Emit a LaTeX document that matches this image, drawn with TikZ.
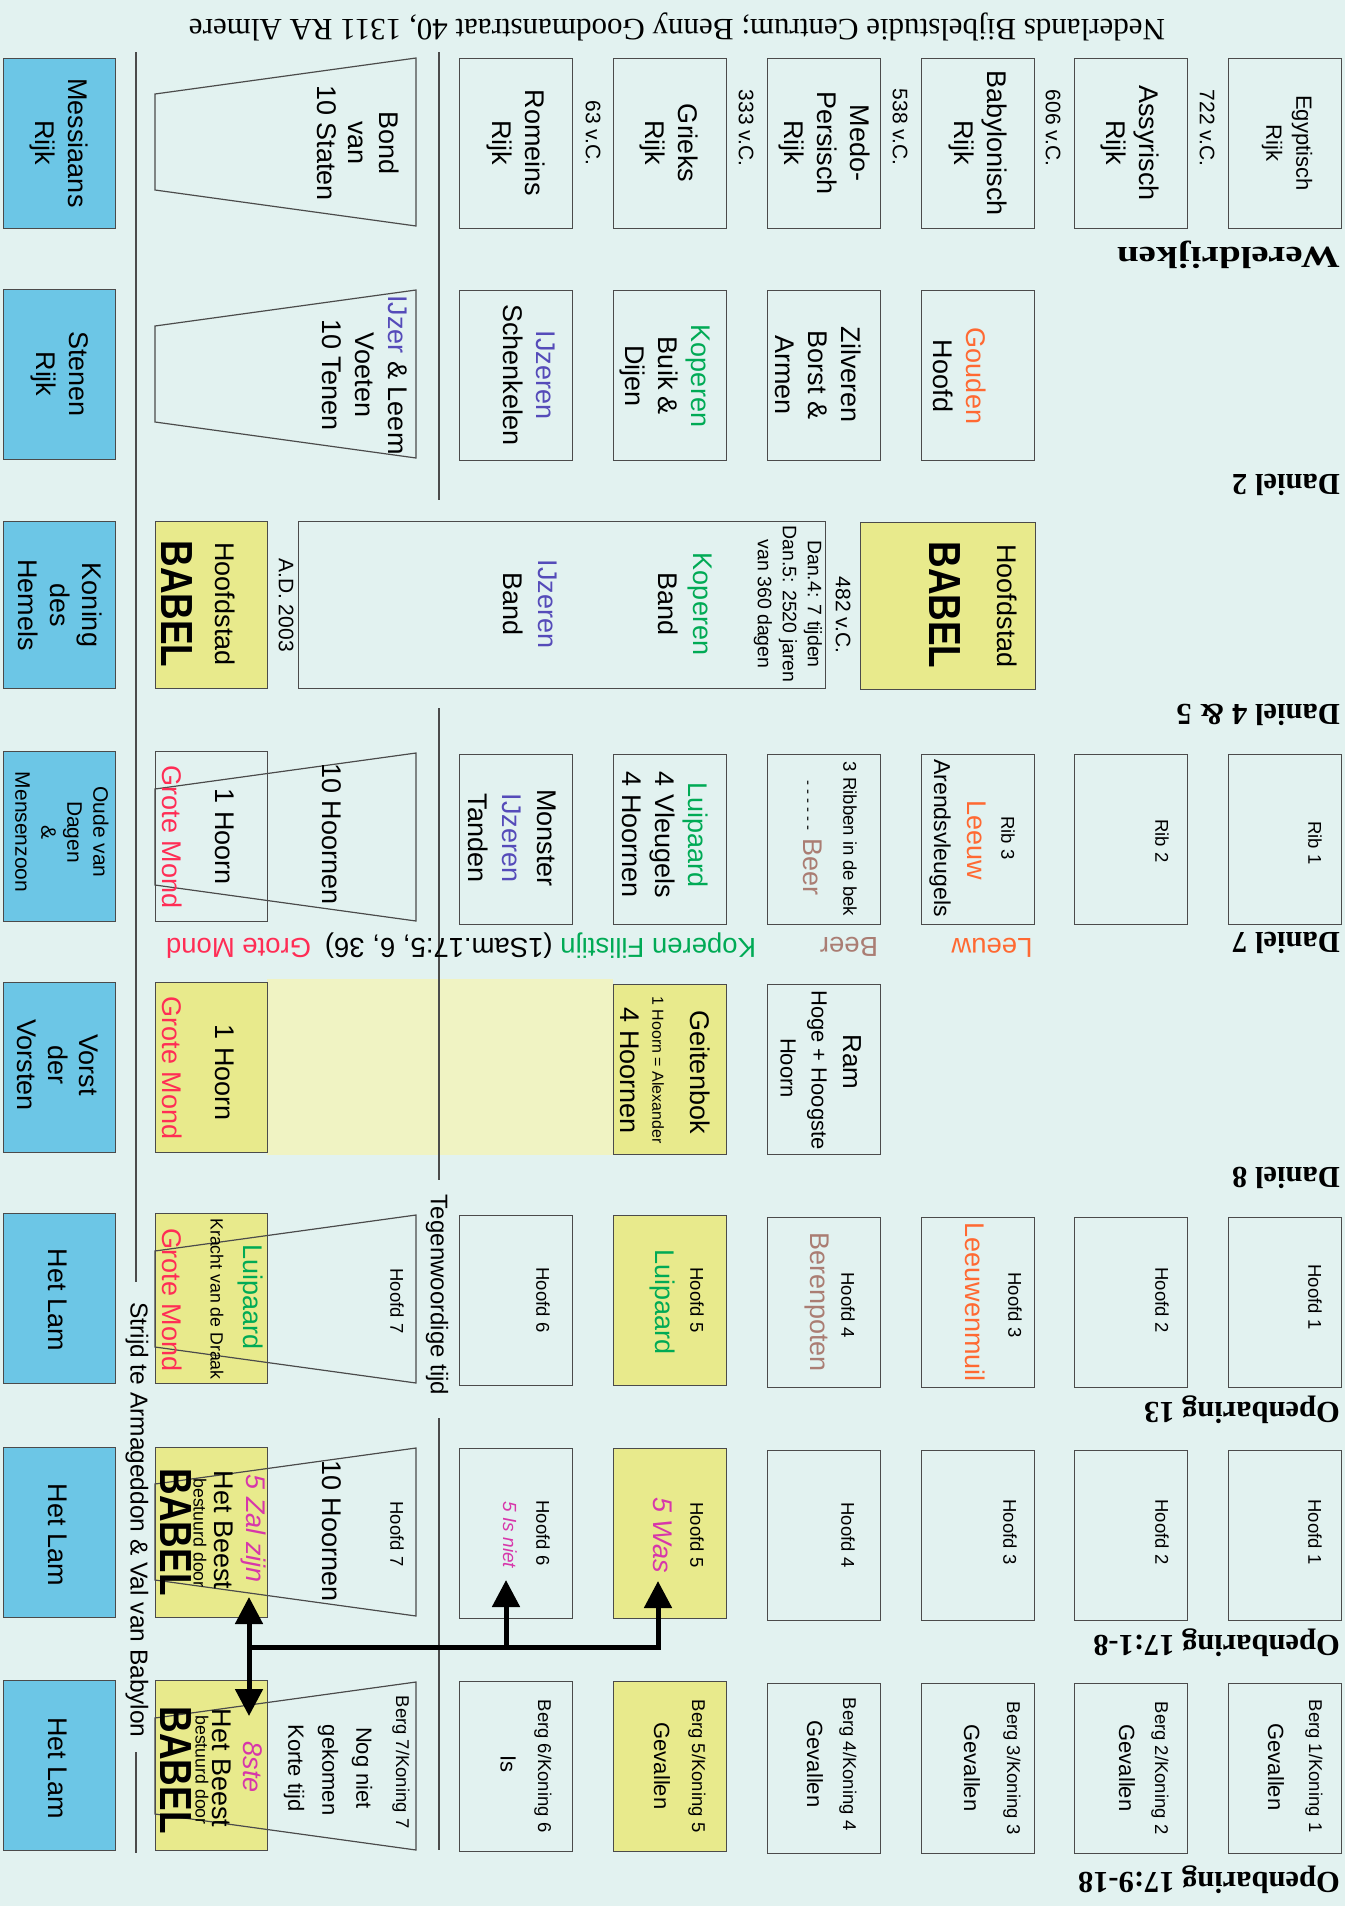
\documentclass[tikz,border=0pt]{standalone}
\usepackage{fontspec}
\usepackage{graphicx}
\usetikzlibrary{arrows.meta}
\newfontfamily\ar{Liberation Sans}
\newfontfamily\tm{Liberation Serif}
\definecolor{bgc}{RGB}{226,242,240}
\definecolor{bordc}{RGB}{75,75,75}
\definecolor{bluec}{RGB}{108,198,230}
\definecolor{yelc}{RGB}{232,234,140}
\definecolor{palec}{RGB}{240,243,195}
\definecolor{orc}{RGB}{255,105,50}
\definecolor{grc}{RGB}{0,170,85}
\definecolor{ijc}{RGB}{85,75,185}
\definecolor{redc}{RGB}{255,45,85}
\definecolor{magc}{RGB}{215,55,170}
\definecolor{beerc}{RGB}{170,125,115}
\newcommand{\Bx}[4][]{\node[bx,#1] (#2) at (#3,#4) {};}
\newcommand{\Tx}[5][]{\node[tx,#1] (#2) at (#3,#4) {#5};}
\newcommand{\Trap}[1]{\draw[bord] (416,#1) -- (416,{#1+168}) -- (155,{#1+132}) -- (155,{#1+36}) -- cycle;}
\begin{document}
\begin{tikzpicture}[x=1pt,y=-1pt,
  bx/.style={draw=bordc, line width=1.2pt, minimum height=170pt, minimum width=113pt, inner sep=0pt, anchor=north west},
  yb/.style={fill=yelc},
  bb/.style={fill=bluec, minimum width=112pt},
  cb/.style={minimum width=112pt},
  bord/.style={draw=bordc, line width=1.2pt},
  tx/.style={rotate=-90, inner sep=0pt, align=center, font=\ar\fontsize{27}{33}\selectfont},
  sm/.style={font=\ar\fontsize{18.5}{22}\selectfont},
  md/.style={font=\ar\fontsize{22}{28}\selectfont},
  dt/.style={font=\ar\fontsize{21}{25}\selectfont},
  f17/.style={font=\ar\fontsize{17.7}{21}\selectfont},
  mg/.style={text=magc, font=\ar\itshape\fontsize{27}{33}\selectfont},
  bab/.style={tx, font=\ar\bfseries\fontsize{45}{45}\selectfont},
  lb/.style={rotate=180, inner sep=0pt, font=\ar\fontsize{27.5}{30}\selectfont},
  hd/.style={rotate=180, anchor=west, inner sep=0pt, font=\tm\bfseries\fontsize{30.5}{34}\selectfont},
  arw/.style={line width=5pt, -{Triangle[length=27pt,width=27pt]}},
  arw2/.style={line width=5pt, {Triangle[length=27pt,width=27pt]}-{Triangle[length=27pt,width=27pt]}}
]
\useasboundingbox (0,0) rectangle (1361,1906);
\fill[bgc] (0,0) rectangle (1345,1906);
% pale band
\fill[palec] (267,979) rectangle (613,1155);

% ---------- footer ----------
\node[rotate=180, inner sep=0pt, font=\tm\fontsize{31}{31}\selectfont] (ft) at (677,27) {Nederlands Bijbelstudie Centrum; Benny Goodmanstraat 40, 1311 RA Almere};

% ---------- boxes ----------
% row 1
\Bx{b11}{1228}{58} \Bx{b12}{1074}{58} \Bx{b13}{921}{58} \Bx{b14}{767}{58} \Bx{b15}{613}{58} \Bx{b16}{459}{58}
\Bx[bb]{b18}{3}{58}
% row 2
\Bx{b23}{921}{290} \Bx{b24}{767}{290} \Bx{b25}{613}{290} \Bx{b26}{459}{290}
\Bx[bb]{b28}{3}{289}
% row 3
\node[bx,yb,minimum width=175pt,minimum height=167pt] (b3y) at (860,522) {};
\node[bx,minimum width=527pt,minimum height=167pt] (b3w) at (298,521) {};
\node[bx,yb,cb,minimum height=167pt] (b37) at (155,521) {};
\Bx[bb,minimum height=167pt]{b38}{3}{521}
% row 4
\Bx{b41}{1228}{754} \Bx{b42}{1074}{754} \Bx{b43}{921}{754} \Bx{b44}{767}{754} \Bx{b45}{613}{754} \Bx{b46}{459}{754}
\Bx[cb]{b47}{155}{751}
\Bx[bb]{b48}{3}{751}
% row 5
\Bx{b54}{767}{984} \Bx[yb]{b55}{613}{984}
\Bx[yb,cb]{b57}{155}{982}
\Bx[bb]{b58}{3}{982}
% row 6
\Bx{b61}{1228}{1217} \Bx{b62}{1074}{1217} \Bx{b63}{921}{1217} \Bx{b64}{767}{1217} \Bx[yb]{b65}{613}{1215} \Bx{b66}{459}{1215}
\Bx[yb,cb]{b67}{155}{1213}
\Bx[bb]{b68}{3}{1213}
% row 7
\Bx{b71}{1228}{1450} \Bx{b72}{1074}{1450} \Bx{b73}{921}{1450} \Bx{b74}{767}{1450} \Bx[yb]{b75}{613}{1448} \Bx{b76}{459}{1448}
\Bx[yb,cb]{b77}{155}{1447}
\Bx[bb]{b78}{3}{1447}
% row 8
\Bx{b81}{1228}{1683} \Bx{b82}{1074}{1683} \Bx{b83}{921}{1683} \Bx{b84}{767}{1683} \Bx[yb]{b85}{613}{1681} \Bx{b86}{459}{1681}
\Bx[yb,cb]{b87}{155}{1680}
\Bx[bb]{b88}{3}{1680}

% trapezoids
\Trap{58} \Trap{290} \Trap{753} \Trap{1215} \Trap{1448} \Trap{1682}

% separator lines
\draw[bord] (439,52) -- (439,500);
\draw[bord] (439,708) -- (439,1180);
\draw[bord] (439,1418) -- (439,1850);
\draw[bord] (136,52) -- (136,1282);
\draw[bord] (136,1752) -- (136,1853);

% ---------- headers ----------
\node[hd] (h1) at (1340,255) {\scalebox{1.28}[1]{Wereldrijken}};
\node[hd] (h2) at (1340,485) {Daniel 2};
\node[hd] (h3) at (1340,715) {Daniel 4 \& 5};
\node[hd] (h4) at (1340,943) {Daniel 7};
\node[hd] (h5) at (1340,1178) {Daniel 8};
\node[hd] (h6) at (1340,1410) {Openbaring 13};
\node[hd] (h7) at (1340,1643) {Openbaring 17:1-8};
\node[hd] (h8) at (1340,1880) {Openbaring 17:9-18};

% ---------- row 1 ----------
\Tx[font=\ar\fontsize{22}{30}\selectfont]{t1a}{1287}{143}{Egyptisch\\Rijk}
\Tx{t1b}{1130}{143}{Assyrisch\\Rijk}
\Tx{t1c}{978}{143}{Babylonisch\\Rijk}
\Tx{t1d}{824}{143}{Medo-\\Persisch\\Rijk}
\Tx{t1e}{669}{143}{Grieks\\Rijk}
\Tx{t1f}{516}{143}{Romeins\\Rijk}
\Tx[dt]{d1}{1207}{128}{722 v.C.}
\Tx[dt]{d2}{1053}{128}{606 v.C.}
\Tx[dt]{d3}{900}{127}{538 v.C.}
\Tx[dt]{d4}{746}{128}{333 v.C.}
\Tx[dt]{d5}{593}{133}{63 v.C.}
\Tx[font=\ar\fontsize{27}{31}\selectfont]{t1g}{358}{143}{Bond\\van\\10 Staten}
\Tx{t1h}{59}{143}{Messiaans\\Rijk}

% ---------- row 2 ----------
\Tx{t2c}{960}{376}{\textcolor{orc}{Gouden}\\Hoofd}
\Tx{t2d}{818}{375}{Zilveren\\Borst \&\\Armen}
\Tx{t2e}{665}{376}{\textcolor{grc}{Koperen}\\Buik \&\\Dijen}
\Tx{t2f}{529}{375}{\textcolor{ijc}{IJzeren}\\Schenkelen}
\Tx{t2g}{365}{375}{\textcolor{ijc}{IJzer} \& Leem\\Voeten\\10 Tenen}
\Tx{t2h}{60}{374}{Stenen\\Rijk}

% ---------- row 3 ----------
\Tx{t3a}{1007}{606}{Hoofdstad}
\node[bab] (t3b) at (945,605) {\scalebox{0.82}[1]{BABEL}};
\Tx[dt]{t3c}{843}{615}{482 v.C.}
\Tx[font=\ar\fontsize{19.5}{25}\selectfont]{t3d}{788}{604}{Dan.4: 7 tijden\\Dan.5: 2520 jaren\\van 360 dagen}
\Tx[font=\ar\fontsize{27}{35}\selectfont]{t3e}{685}{604}{\textcolor{grc}{Koperen}\\Band}
\Tx[font=\ar\fontsize{27}{35}\selectfont]{t3f}{530}{604}{\textcolor{ijc}{IJzeren}\\Band}
\Tx[dt]{t3g}{286}{605}{A.D. 2003}
\Tx{t3h}{225}{604}{Hoofdstad}
\node[bab] (t3i) at (177,604) {\scalebox{0.82}[1]{BABEL}};
\Tx[font=\ar\fontsize{27}{32}\selectfont]{t3j}{60}{605}{Koning\\des\\Hemels}

% ---------- row 4 ----------
\Tx[sm]{t4a}{1315}{843}{Rib 1}
\Tx[sm]{t4b}{1162}{841}{Rib 2}
\Tx[sm]{t4c}{1008}{838}{Rib 3}
\Tx[text=orc]{t4d}{977}{840}{Leeuw}
\Tx[font=\ar\fontsize{23}{28}\selectfont]{t4e}{940}{838}{Arendsvleugels}
\node[lb,text=orc] (l4a) at (992,948) {Leeuw};
\Tx[sm]{t4f}{850}{839}{3 Ribben in de bek}
\Tx{t4g}{813}{838}{{\fontsize{15}{15}\selectfont - - - - - -}\hspace{8pt}\textcolor{beerc}{Beer}}
\node[lb,text=beerc] (l4b) at (849,947) {Beer};
\Tx{t4h}{665}{835}{\textcolor{grc}{Luipaard}\\4 Vleugels\\4 Hoornen}
\node[lb] (l4c) at (461,946) {\textcolor{grc}{Koperen Filistijn} (1Sam.17:5, 6, 36)\hspace{0.5em}\textcolor{redc}{Grote Mond}};
\Tx[font=\ar\fontsize{27}{34.5}\selectfont]{t4i}{512}{838}{Monster\\\textcolor{ijc}{IJzeren}\\Tanden}
\Tx{t4j}{332}{834}{10 Hoornen}
\Tx{t4k}{225}{837}{1 Hoorn}
\Tx[text=redc]{t4l}{172}{837}{Grote Mond}
\Tx[font=\ar\fontsize{21}{26}\selectfont]{t4m}{62}{832}{Oude van\\Dagen\\\&\\Mensenzoon}

% ---------- row 5 ----------
\Tx[font=\ar\fontsize{26}{30}\selectfont]{t5a}{852}{1062}{Ram}
\Tx[md]{t5b}{817}{1070}{Hoge + Hoogste}
\Tx[md]{t5c}{788}{1068}{Hoorn}
\Tx{t5d}{700}{1072}{Geitenbok}
\Tx[font=\ar\fontsize{16}{18}\selectfont]{t5e}{658}{1070}{1 Hoorn = Alexander}
\Tx{t5f}{630}{1071}{4 Hoornen}
\Tx{t5g}{225}{1073}{1 Hoorn}
\Tx[text=redc]{t5h}{172}{1068}{Grote Mond}
\Tx[font=\ar\fontsize{27}{31}\selectfont]{t5i}{58}{1065}{Vorst\\der\\Vorsten}

% ---------- row 6 ----------
\Tx[sm]{t6a}{1315}{1297}{Hoofd 1}
\Tx[sm]{t6b}{1162}{1300}{Hoofd 2}
\Tx[sm]{t6c}{1015}{1305}{Hoofd 3}
\Tx[text=orc]{t6d}{975}{1302}{Leeuwenmuil}
\Tx[sm]{t6e}{848}{1305}{Hoofd 4}
\Tx[text=beerc]{t6f}{817}{1302}{Berenpoten}
\Tx[sm]{t6g}{697}{1300}{Hoofd 5}
\Tx[text=grc]{t6h}{662}{1302}{Luipaard}
\Tx[sm]{t6i}{543}{1300}{Hoofd 6}
\Tx[sm]{t6j}{397}{1301}{Hoofd 7}
\Tx[text=grc]{t6k}{250}{1297}{Luipaard}
\Tx[f17]{t6l}{217}{1299}{Kracht van de Draak}
\Tx[text=redc]{t6m}{172}{1300}{Grote Mond}
\Tx{t6n}{58}{1300}{Het Lam}
\Tx[font=\ar\fontsize{24}{28}\selectfont]{tt}{437}{1295}{Tegenwoordige tijd}

% ---------- row 7 ----------
\Tx[sm]{t7a}{1315}{1532}{Hoofd 1}
\Tx[sm]{t7b}{1162}{1532}{Hoofd 2}
\Tx[sm]{t7c}{1010}{1532}{Hoofd 3}
\Tx[sm]{t7d}{848}{1535}{Hoofd 4}
\Tx[sm]{t7e}{697}{1535}{Hoofd 5}
\Tx[mg]{t7f}{663}{1535}{5 Was}
\Tx[sm]{t7g}{543}{1533}{Hoofd 6}
\Tx[mg,font=\ar\itshape\fontsize{19}{22}\selectfont]{t7h}{510}{1535}{5 Is niet}
\Tx[sm]{t7i}{397}{1534}{Hoofd 7}
\Tx{t7j}{332}{1531}{10 Hoornen}
\Tx[mg]{t7k}{253}{1529}{5 Zal zijn}
\Tx{t7l}{224}{1530}{Het Beest}
\Tx[f17]{t7m}{200}{1533}{bestuurd door}
\node[bab] (t7n) at (176,1532) {\scalebox{0.82}[1]{BABEL}};
\Tx{t7o}{58}{1535}{Het Lam}

% ---------- row 8 ----------
\Tx[sm]{t8a}{1314}{1766}{Berg 1/Koning 1}
\Tx[md]{t8b}{1276}{1767}{Gevallen}
\Tx[sm]{t8c}{1160}{1768}{Berg 2/Koning 2}
\Tx[md]{t8d}{1127}{1768}{Gevallen}
\Tx[sm]{t8e}{1012}{1768}{Berg 3/Koning 3}
\Tx[md]{t8f}{972}{1768}{Gevallen}
\Tx[sm]{t8g}{848}{1764}{Berg 4/Koning 4}
\Tx[md]{t8h}{815}{1764}{Gevallen}
\Tx[sm]{t8i}{697}{1766}{Berg 5/Koning 5}
\Tx[md]{t8j}{662}{1766}{Gevallen}
\Tx[sm]{t8k}{543}{1766}{Berg 6/Koning 6}
\Tx[md]{t8l}{508}{1764}{Is}
\Tx[sm]{t8m}{401}{1762}{Berg 7/Koning 7}
\Tx[md]{t8n}{362}{1768}{Nog niet}
\Tx[md]{t8o}{328}{1770}{gekomen}
\Tx[md]{t8p}{294}{1768}{Korte tijd}
\Tx[mg]{t8q}{253}{1767}{8ste}
\Tx{t8r}{222}{1768}{Het Beest}
\Tx[f17]{t8s}{202}{1770}{bestuurd door}
\node[bab] (t8u) at (176,1770) {\scalebox{0.82}[1]{BABEL}};
\Tx{t8t}{58}{1768}{Het Lam}
\Tx[font=\ar\fontsize{24.5}{28}\selectfont]{ts}{137}{1520}{Strijd te Armageddon \& Val van Babylon}

% ---------- arrows ----------
\coordinate (jL) at (249,1647);
\coordinate (jR) at (658,1647);
\coordinate (j6) at (506,1647);
\coordinate (tip5) at (658,1581);
\coordinate (tip6) at (506,1580);
\coordinate (up7) at (249,1597);
\coordinate (dn8) at (249,1716);
\draw[arw] (jL) -- (jR) -- (tip5);
\draw[arw] (j6) -- (tip6);
\draw[arw2] (up7) -- (dn8);
\end{tikzpicture}
\end{document}
